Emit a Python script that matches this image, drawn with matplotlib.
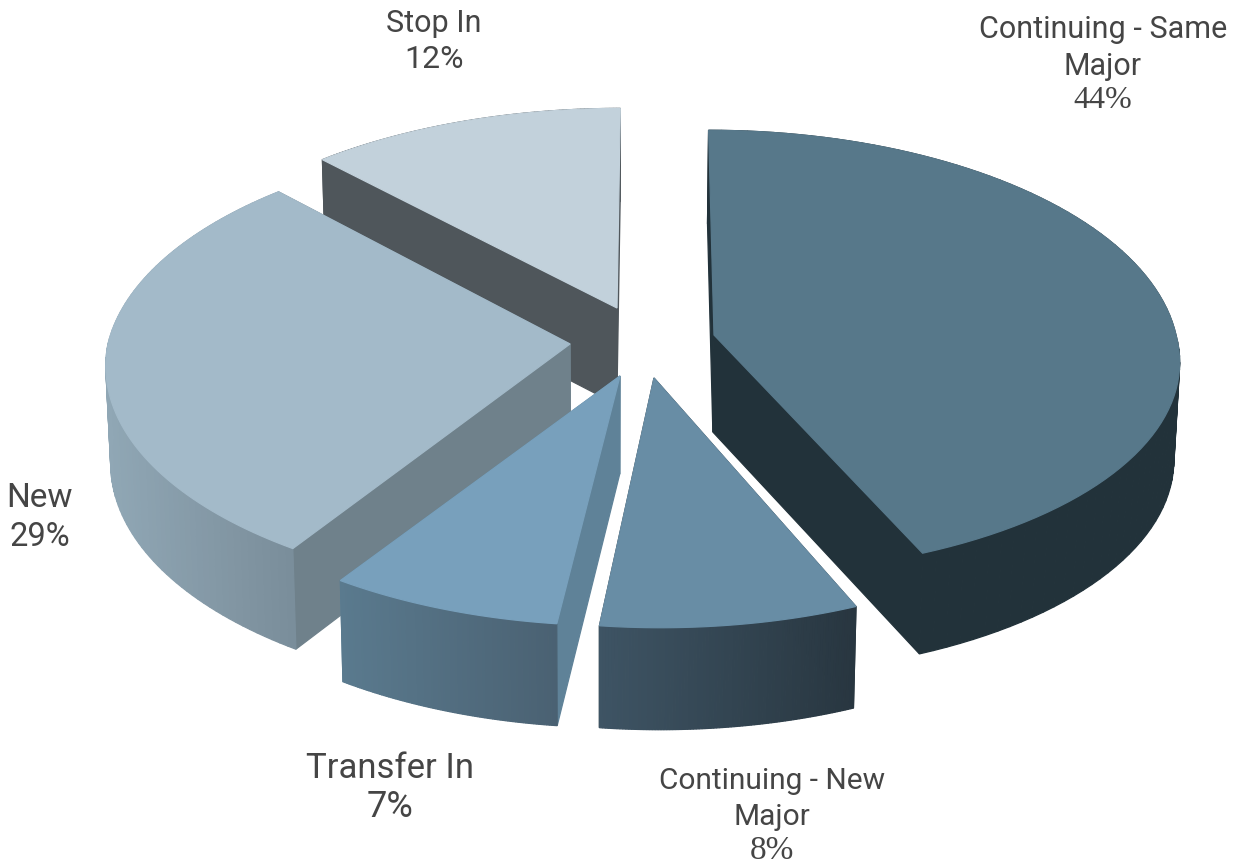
import numpy as np
import matplotlib
matplotlib.use("Agg")
import matplotlib.pyplot as plt
from matplotlib.colors import to_rgb
from matplotlib.patches import Polygon

names = ["Continuing - Same\nMajor", "Continuing - New\nMajor", "Transfer In", "New", "Stop In"]
shares = [43.7, 8.2, 7.4, 28.6, 12.1]

# pie layout in pixels
apex_x = [714, 654, 620, 570, 617]
apex_y = [335, 378, 376, 344, 308]
rx = 462
ry = 225
persp = 0.099
vanish_x = 654
depth = 97
shear = [0.03, 0.026, 0.006, 0.04, 0.03]
back_scale = [1, 1, 1, 1, 0.975]
front_scale = [0.955, 1, 1, 1, 1]

top_col = ["#57788A", "#688DA5", "#78A0BC", "#A3BAC9", "#C2D1DB"]
cut_col = ["#22323A", "#29363F", "#5F8298", "#6F818B", "#4F565B"]
wall_left = ["#22323A", "#3E5464", "#5A7A8E", "#90A7B5", "#4F565B"]
wall_right = ["#22323A", "#283640", "#4A6172", "#7A8D9A", "#4F565B"]

# back to front
order = [4, 3, 0, 2, 1]

label_x = [1103, 772, 390, 40, 434]
label_y = [48, 799, 768, 498, 23]
pct_y = [101, 851, 807, 537, 60]
label_size = [22, 21.5, 25, 24, 22]
pct_font = ["Liberation Serif", "Liberation Serif", "Roboto", "Roboto", "Roboto"]
pct_size = [23, 24, 26, 23.5, 23]
text_col = "#454545"


def top_xy(i, theta):
    # theta runs clockwise from 12 o'clock, the far side of the pie
    c = np.cos(theta)
    d = 1 + persp * c
    dy = -ry * c / d * np.where(c < 0, front_scale[i], back_scale[i])
    x = vanish_x + (apex_x[i] - vanish_x + rx * np.sin(theta)) / d + shear[i] * np.maximum(dy, 0)
    return x, apex_y[i] + dy


def drop(x, y):
    return 600 + (np.asarray(x) - 600) * 0.99, np.asarray(y) + depth + (np.asarray(y) - 335) * 0.017


def face(ax, x, y, color, z):
    ax.add_patch(Polygon(np.column_stack([x, y]), closed=True, facecolor=color,
                         edgecolor=color, linewidth=0.9, zorder=z))


fig = plt.figure(figsize=(12.43, 8.66), dpi=100)
ax = fig.add_axes([0, 0, 1, 1])
ax.set_xlim(0, 1243)
ax.set_ylim(866, 0)
ax.axis("off")

edges = np.cumsum([0] + shares) / sum(shares) * 2 * np.pi

for z, i in enumerate(order):
    t = np.linspace(edges[i], edges[i + 1], 90)
    x, y = top_xy(i, t)
    x0, y0 = apex_x[i], apex_y[i]
    xb, yb = drop(x, y)
    x0b, y0b = drop(x0, y0)

    base = z * 10
    # cut faces of the slice
    face(ax, [x0, x[0], xb[0], x0b], [y0, y[0], yb[0], y0b], cut_col[i], base + 1)
    face(ax, [x0, x[-1], xb[-1], x0b], [y0, y[-1], yb[-1], y0b], cut_col[i], base + 1)

    # outer wall, shaded left to right
    c1 = np.array(to_rgb(wall_left[i]))
    c2 = np.array(to_rgb(wall_right[i]))
    span = max(x.max() - x.min(), 1)
    for j in range(len(t) - 1):
        f = ((x[j] + x[j + 1]) / 2 - x.min()) / span
        face(ax, [x[j], x[j + 1], xb[j + 1], xb[j]], [y[j], y[j + 1], yb[j + 1], yb[j]],
             tuple(c1 + (c2 - c1) * f), base + 2)

    # top
    face(ax, np.r_[x0, x], np.r_[y0, y], top_col[i], base + 3)

for i in range(len(names)):
    ax.text(label_x[i], label_y[i], names[i], ha="center", va="center", fontsize=label_size[i],
            family="Roboto", color=text_col, linespacing=1.35, zorder=100)
    ax.text(label_x[i], pct_y[i], "%d%%" % round(shares[i]), ha="center", va="center",
            fontsize=pct_size[i], family=pct_font[i], color=text_col, zorder=100)

fig.savefig("out.png", dpi=100)
